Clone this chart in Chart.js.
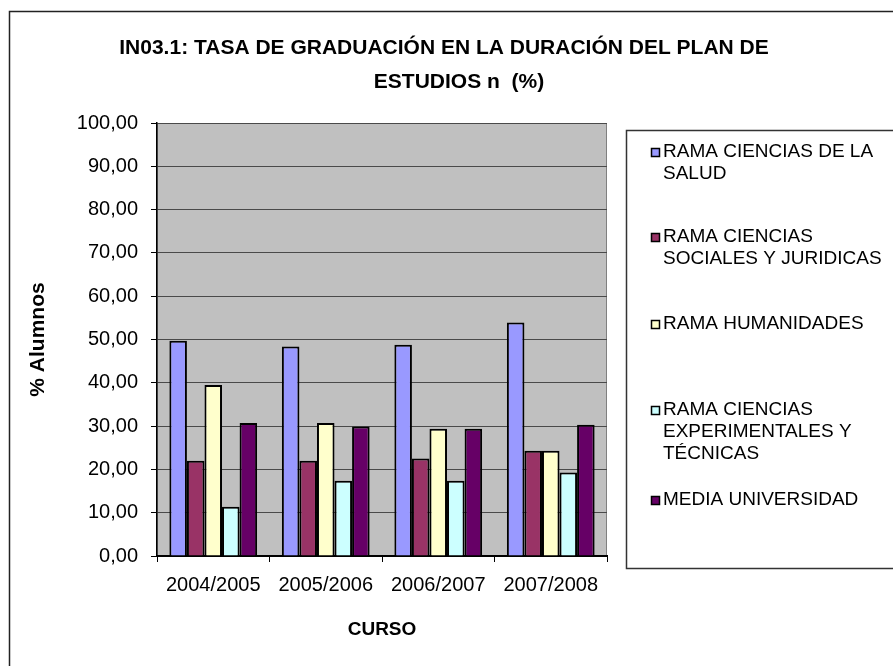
<!DOCTYPE html>
<html>
<head>
<meta charset="utf-8">
<script src="https://cdn.jsdelivr.net/npm/chart.js@4/dist/chart.umd.min.js"></script>
<style>
    body { margin: 0; background: #ffffff; }
    canvas { display: block; }
</style>
</head>
<body>
<canvas id="graficoTasa" width="893" height="666"></canvas>
<script>
const cursos = ['2004/2005', '2005/2006', '2006/2007', '2007/2008'];
const ramaSalud = [49.7, 48.4, 48.8, 53.9];
const ramaSociales = [22.0, 22.0, 22.5, 24.3];
const ramaHumanidades = [39.5, 30.7, 29.4, 24.3];
const ramaExperimentales = [11.4, 17.4, 17.4, 19.3];
const mediaUniversidad = [30.7, 29.9, 29.4, 30.3];
const nombresSeries = [
    'RAMA CIENCIAS DE LA SALUD',
    'RAMA CIENCIAS SOCIALES Y JURIDICAS',
    'RAMA HUMANIDADES',
    'RAMA CIENCIAS EXPERIMENTALES Y TÉCNICAS',
    'MEDIA UNIVERSIDAD'
];
const ticksEjeY = [0, 10, 20, 30, 40, 50, 60, 70, 80, 90, 100];
const tituloLineas = ['IN03.1: TASA DE GRADUACIÓN EN LA DURACIÓN DEL PLAN DE', 'ESTUDIOS n  (%)'];

const coloresRamas = ['#9999FF', '#993366', '#FFFFCC', '#CCFFFF', '#660066'];
const fuente = '"Liberation Sans", Arial, sans-serif';

// fondo gris del area del grafico + marco exterior
const fondoPlugin = {
    id: 'fondo',
    beforeDraw: function (chart) {
        const ctx = chart.ctx;
        const a = chart.chartArea;
        ctx.save();
        ctx.fillStyle = '#C0C0C0';
        ctx.fillRect(a.left, a.top, a.right - a.left, a.bottom - a.top);
        ctx.strokeStyle = '#808080';
        ctx.lineWidth = 1;
        ctx.strokeRect(a.left + 0.5, a.top + 0.5, a.right - a.left - 1, a.bottom - a.top);
        ctx.strokeStyle = '#222222';
        ctx.lineWidth = 1.5;
        ctx.strokeRect(9.5, 11.5, 893, 720);
        ctx.restore();
    }
};

// titulo en dos lineas
const tituloPlugin = {
    id: 'tituloExcel',
    afterDraw: function (chart) {
        const ctx = chart.ctx;
        ctx.save();
        ctx.font = 'bold 21px ' + fuente;
        ctx.fillStyle = '#000';
        ctx.textAlign = 'center';
        ctx.textBaseline = 'middle';
        ctx.fillText(tituloLineas[0], 444, 48);
        ctx.fillText(tituloLineas[1], 459, 82);
        ctx.restore();
    }
};

function cortarTexto(ctx, texto, maxAncho) {
    let palabras = texto.split(' ');
    let lineas = [];
    let actual = '';
    for (let i = 0; i < palabras.length; i++) {
        let prueba = actual ? actual + ' ' + palabras[i] : palabras[i];
        if (ctx.measureText(prueba).width > maxAncho && actual) {
            lineas.push(actual);
            actual = palabras[i];
        } else {
            actual = prueba;
        }
    }
    lineas.push(actual);
    return lineas;
}

// leyenda a la derecha (estilo excel)
const leyendaPlugin = {
    id: 'leyendaExcel',
    afterDraw: function (chart) {
        const ctx = chart.ctx;
        const posY = [152, 237, 324, 410, 500];
        ctx.save();
        ctx.strokeStyle = '#333333';
        ctx.lineWidth = 1.5;
        ctx.strokeRect(626.5, 130.5, 300, 438);
        ctx.font = '19px ' + fuente;
        ctx.textBaseline = 'middle';
        chart.data.datasets.forEach(function (ds, i) {
            let y = posY[i];
            ctx.fillStyle = ds.backgroundColor;
            ctx.fillRect(651, y - 4, 9, 9);
            ctx.strokeStyle = '#000';
            ctx.lineWidth = 1.5;
            ctx.strokeRect(651.5, y - 3.5, 8, 8);
            ctx.fillStyle = '#000';
            let lineas = cortarTexto(ctx, ds.label, 230);
            for (let j = 0; j < lineas.length; j++) {
                ctx.fillText(lineas[j], 663, y + j * 22);
            }
        });
        ctx.restore();
    }
};

const seriesValores = [ramaSalud, ramaSociales, ramaHumanidades, ramaExperimentales, mediaUniversidad];

let dadosBarras = {
    labels: cursos,
    datasets: []
};

for (let i = 0; i < seriesValores.length; i++) {
    dadosBarras.datasets.push({
        label: nombresSeries[i],
        data: seriesValores[i],
        backgroundColor: coloresRamas[i],
        borderColor: '#000000',
        borderWidth: 2,
        borderSkipped: 'bottom',
        categoryPercentage: 0.78,
        barPercentage: 1.0
    });
}

const configBarras = {
    type: 'bar',
    data: dadosBarras,
    options: {
        responsive: false,
        animation: false,
        layout: {
            padding: { top: 123, left: 10, right: 286, bottom: 0 }
        },
        plugins: {
            legend: { display: false },
            title: { display: false },
            tooltip: { enabled: false }
        },
        scales: {
            x: {
                grid: {
                    display: true,
                    drawOnChartArea: false,
                    drawTicks: true,
                    tickLength: 6,
                    tickColor: '#000',
                    offset: true
                },
                border: { color: '#000', width: 2 },
                ticks: {
                    color: '#000',
                    padding: 11,
                    font: { family: fuente, size: 20 }
                },
                title: {
                    display: true,
                    text: 'CURSO',
                    color: '#000',
                    font: { family: fuente, size: 19, weight: 'bold' },
                    padding: { top: 0, bottom: 25 }
                },
                afterFit: function (scale) {
                    scale.height = 110;
                }
            },
            y: {
                min: 0,
                max: 100,
                afterBuildTicks: function (scale) {
                    scale.ticks = ticksEjeY.map(function (v) { return { value: v }; });
                },
                grid: {
                    color: '#4a4a4a',
                    lineWidth: 1,
                    tickLength: 6,
                    tickColor: '#000'
                },
                border: { color: '#000', width: 1.5 },
                ticks: {
                    color: '#000',
                    padding: 13,
                    font: { family: fuente, size: 20 },
                    callback: function (v) {
                        return v.toFixed(2).replace('.', ',');
                    }
                },
                title: {
                    display: true,
                    text: '% Alumnos',
                    color: '#000',
                    font: { family: fuente, size: 21, weight: 'bold' },
                    padding: { top: 16, bottom: 0 }
                },
                afterFit: function (scale) {
                    scale.width = 147;
                }
            }
        }
    },
    plugins: [fondoPlugin, tituloPlugin, leyendaPlugin]
};

let graficoTasa = new Chart(
    document.getElementById('graficoTasa'),
    configBarras
);
</script>
</body>
</html>
